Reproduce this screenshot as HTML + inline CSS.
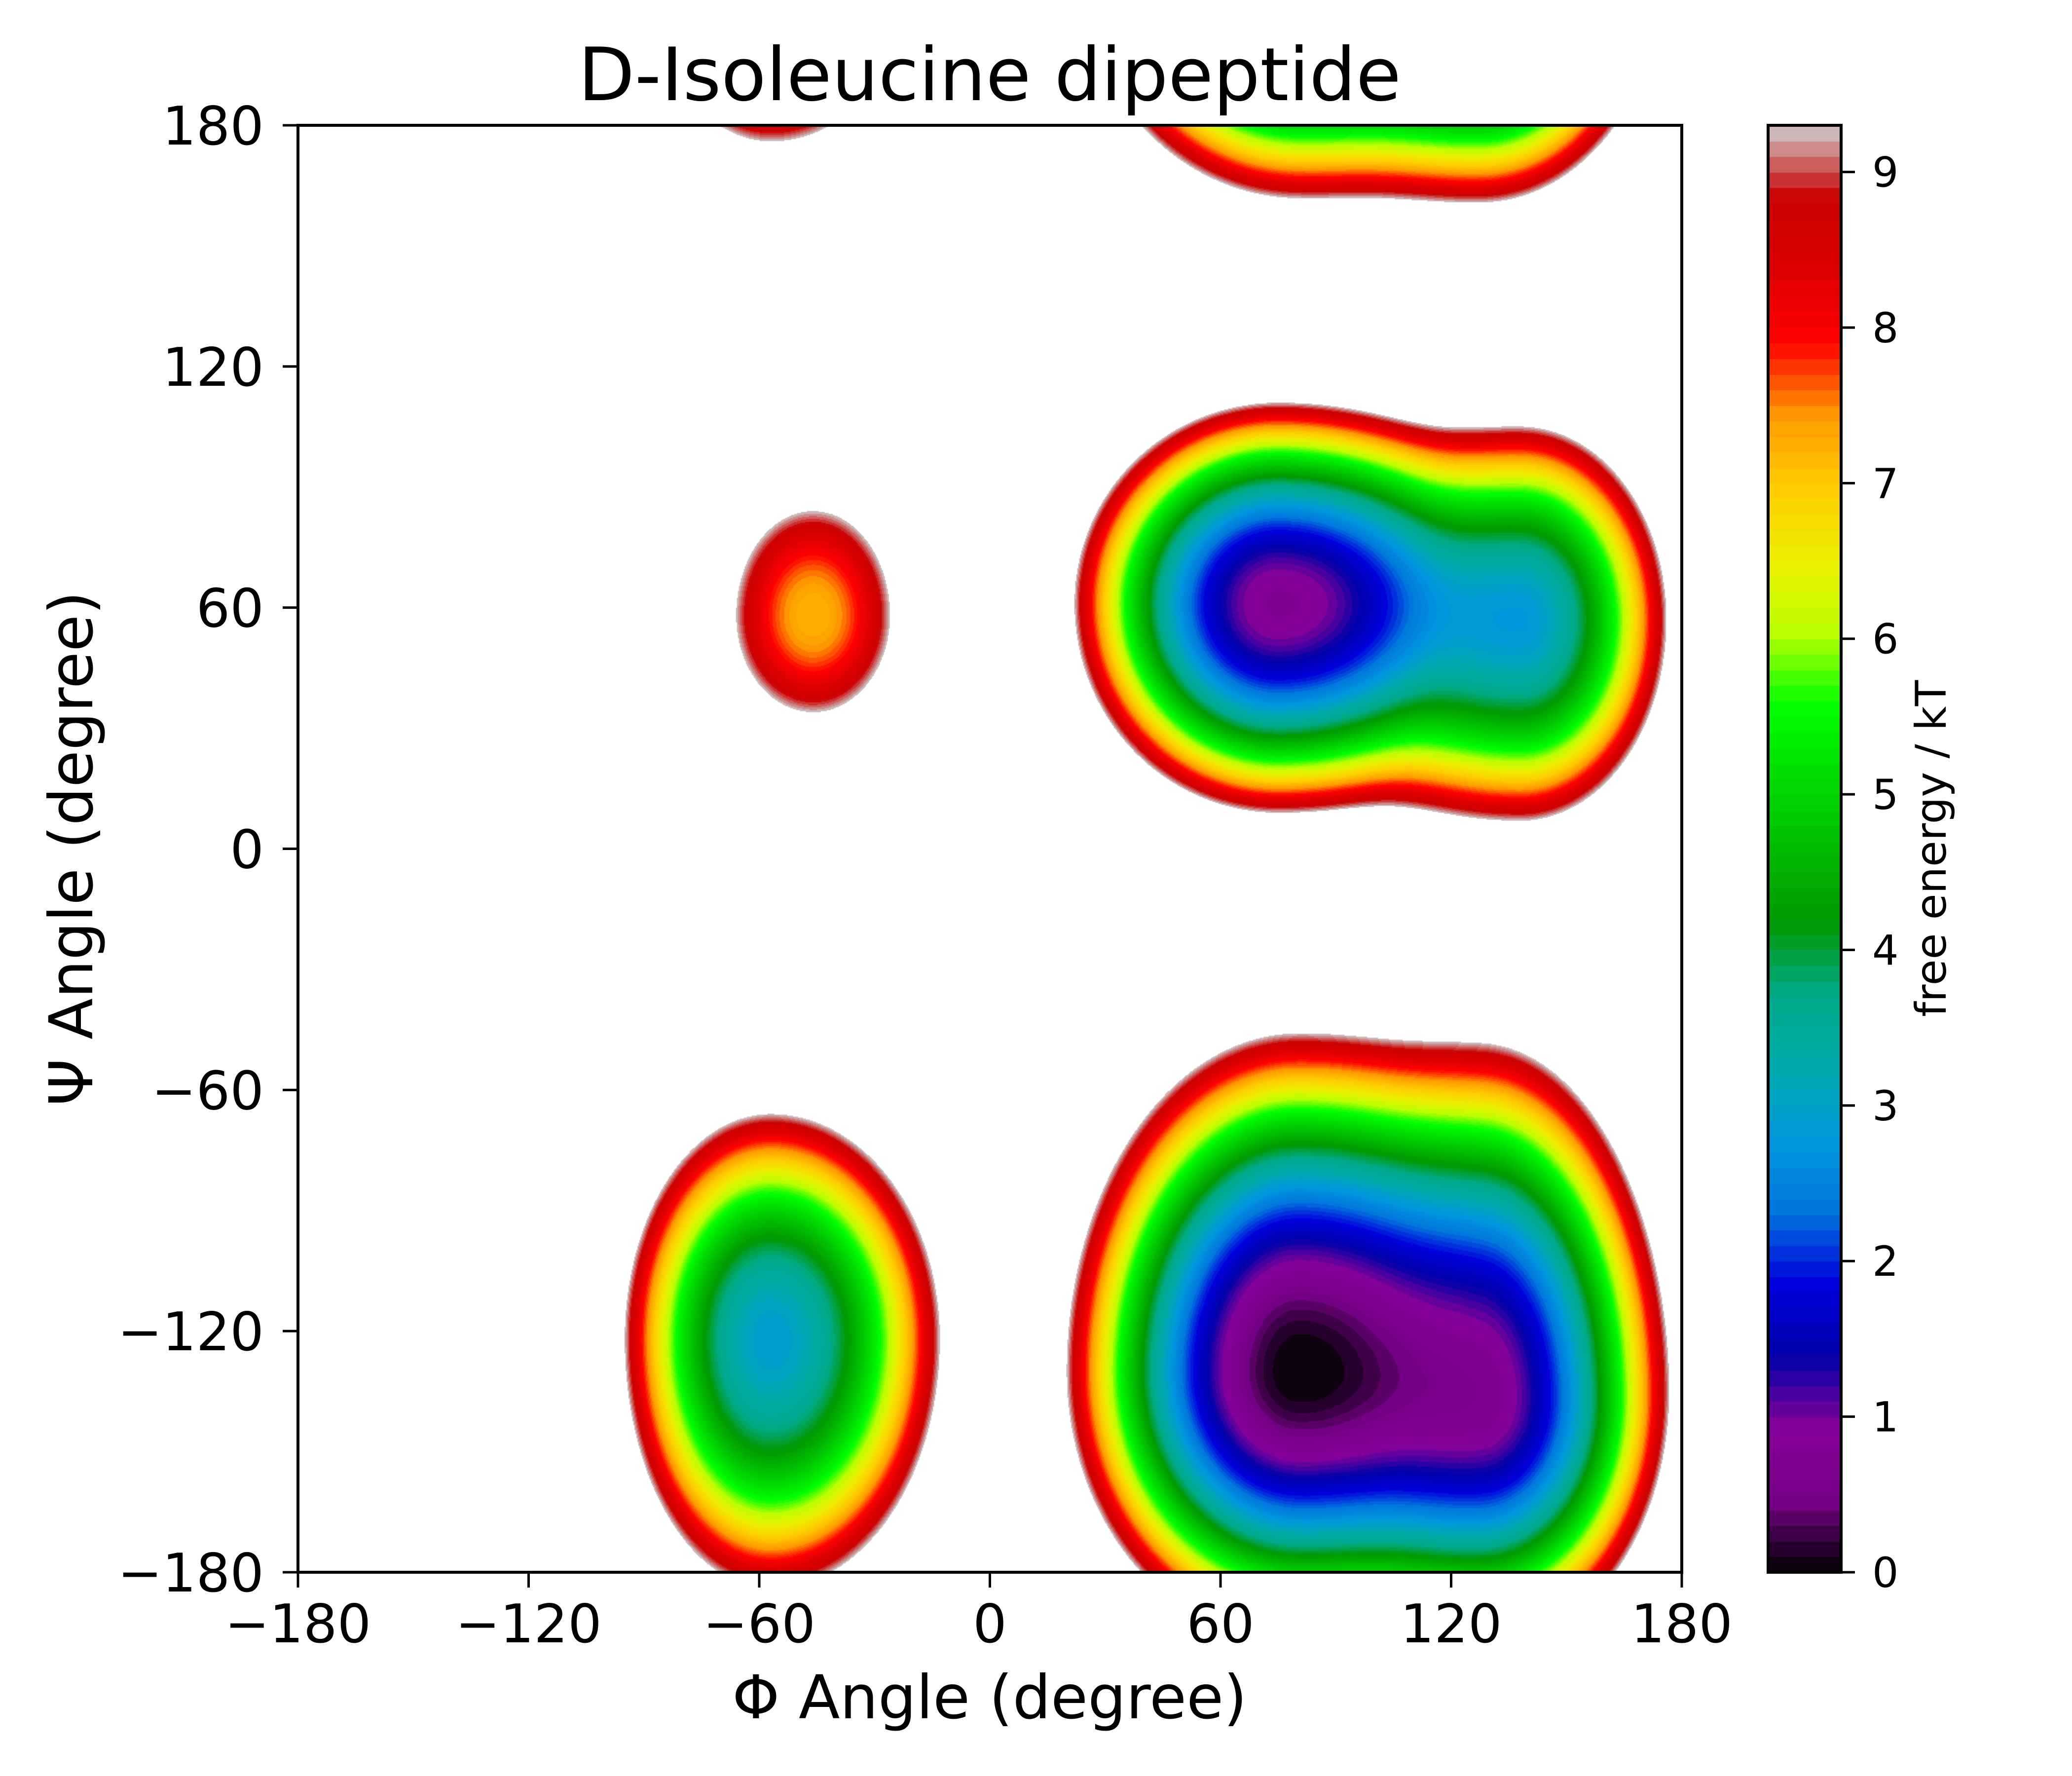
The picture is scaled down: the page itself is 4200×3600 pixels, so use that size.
<!DOCTYPE html>
<html>
<head>
<meta charset="utf-8">
<style>
  html,body{margin:0;padding:0;background:#fff;}
  #root{position:relative;width:4200px;height:3600px;background:#fff;overflow:hidden;}
  #map{position:absolute;left:604px;top:254px;width:2805px;height:2933px;}
  #cbar{position:absolute;left:3584px;top:254px;width:148px;height:2933px;}
  svg{position:absolute;left:0;top:0;}
  text{font-family:"DejaVu Sans","Liberation Sans",sans-serif;fill:#000;}
</style>
</head>
<body>
<div id="root">
  <canvas id="map" width="1403" height="1467"></canvas>
  <canvas id="cbar" width="1" height="2933"></canvas>
  <svg id="ov" width="4200" height="3600">
    <text x="2006" y="203" font-size="149" text-anchor="middle">D-Isoleucine dipeptide</text>
    <text x="2006" y="3483" font-size="122" text-anchor="middle">Φ Angle (degree)</text>
    <text x="145" y="1720" font-size="122" text-anchor="middle" dominant-baseline="central" transform="rotate(-90 145 1720)">Ψ Angle (degree)</text>
    <text x="3915" y="1720" font-size="86" text-anchor="middle" dominant-baseline="central" transform="rotate(-90 3915 1720)">free energy / kT</text>
    <rect x="604" y="254" width="2805" height="2933" fill="none" stroke="#000" stroke-width="6"/>
    <rect x="3584" y="254" width="148" height="2933" fill="none" stroke="#000" stroke-width="6"/>
    <g id="xticks"></g>
    <g id="yticks"></g>
    <g id="cticks"></g>
  </svg>
</div>
<script>
// ---- data ----
const xTickValues = [-180, -120, -60, 0, 60, 120, 180];
const yTickValues = [-180, -120, -60, 0, 60, 120, 180];
const cbarTickValues = [0, 1, 2, 3, 4, 5, 6, 7, 8, 9];
// basin minima (degrees) and depths (kT)
const basinNames = ["lower-main", "lower-second", "upper-main", "upper-second", "left-lower", "left-small"];
const basinPhi   = [80, 128, 75, 138, -57, -46];
const basinPsi   = [-130, -137, 61, 57, -122, 58];
const basinDepth = [0.0, 0.75, 0.75, 2.8, 2.9, 7.2];
// extent (degrees) at which each basin reaches the cutoff energy: left, right, down, up
const basinReachL = [60, 75, 53, 70, 38, 20];
const basinReachR = [90, 48, 75, 38, 44, 20];
const basinReachD = [68, 62, 52, 50, 62, 24];
const basinReachU = [84, 88, 50, 48, 56, 26];
const vMax = 9.3;
const levelStep = 0.1;

// ---- geometry ----
const PL = 604, PR = 3409, PT = 254, PB = 3187;
const xScale = v => PL + (v + 180) / 360 * (PR - PL);
const yScale = v => PB - (v + 180) / 360 * (PB - PT);
const cScale = v => PB - v / vMax * (PB - PT);

// nipy_spectral colormap
const cmStops = [[0,0,0,0],[.05,.4667,0,.5333],[.10,.5333,0,.6],[.15,0,0,.6667],[.20,0,0,.8667],[.25,0,.4667,.8667],[.30,0,.6,.8667],[.35,0,.6667,.6667],[.40,0,.6667,.5333],[.45,0,.6,0],[.50,0,.7333,0],[.55,0,.8667,0],[.60,0,1,0],[.65,.7333,1,0],[.70,.9333,.9333,0],[.75,1,.8,0],[.80,1,.6,0],[.85,1,0,0],[.90,.8667,0,0],[.95,.8,0,0],[1,.8,.8,.8]];
function cmap(t){
  t=Math.max(0,Math.min(1,t));
  for(let i=1;i<cmStops.length;i++){
    if(t<=cmStops[i][0]){
      const a=cmStops[i-1],b=cmStops[i],f=(t-a[0])/(b[0]-a[0]);
      return [0,1,2].map(k=>Math.round(255*(a[k+1]+(b[k+1]-a[k+1])*f)));
    }
  }
  return [204,204,204];
}
const nLevels = Math.round(vMax/levelStep);
const levelColors = [];
for(let i=0;i<nLevels;i++) levelColors.push(cmap((i+0.5)*levelStep/vMax));

function wrap(d){ d=((d+180)%360+360)%360-180; return d; }
function energy(phi, psi){
  let s=0;
  for(let i=0;i<basinPhi.length;i++){
    const dx=wrap(phi-basinPhi[i]), dy=wrap(psi-basinPsi[i]);
    const rx = dx<0?basinReachL[i]:basinReachR[i];
    const ry = dy<0?basinReachD[i]:basinReachU[i];
    const q=(dx/rx)*(dx/rx)+(dy/ry)*(dy/ry);
    const f=basinDepth[i]+(vMax-basinDepth[i])*q;
    s+=Math.exp(-f);
  }
  return -Math.log(s);
}

// ---- draw map ----
const mc=document.getElementById('map'), mctx=mc.getContext('2d');
const W=mc.width,H=mc.height, img=mctx.createImageData(W,H);
for(let j=0;j<H;j++){
  const psi=180-(j+0.5)/H*360;
  for(let i=0;i<W;i++){
    const phi=-180+(i+0.5)/W*360;
    const F=energy(phi,psi);
    const p=(j*W+i)*4;
    if(F>=vMax){img.data[p]=255;img.data[p+1]=255;img.data[p+2]=255;img.data[p+3]=255;continue;}
    const c=levelColors[Math.max(0,Math.min(nLevels-1,Math.floor(F/levelStep)))];
    img.data[p]=c[0];img.data[p+1]=c[1];img.data[p+2]=c[2];img.data[p+3]=255;
  }
}
mctx.putImageData(img,0,0);

// ---- colorbar ----
const cc=document.getElementById('cbar'), cctx=cc.getContext('2d');
for(let i=0;i<nLevels;i++){
  const c=levelColors[i];
  cctx.fillStyle=`rgb(${c[0]},${c[1]},${c[2]})`;
  const y0=cScale((i+1)*levelStep)-PT, y1=cScale(i*levelStep)-PT;
  cctx.fillRect(0,Math.floor(y0),1,Math.ceil(y1-y0)+1);
}

// ---- ticks ----
const NS='http://www.w3.org/2000/svg';
function mk(tag,attrs,parent){const e=document.createElementNS(NS,tag);for(const k in attrs)e.setAttribute(k,attrs[k]);parent.appendChild(e);return e;}
const gx=document.getElementById('xticks');
xTickValues.forEach(v=>{
  const x=xScale(v);
  const t=mk('line',{x1:x,x2:x,y1:PB,y2:PB+31,stroke:'#000','stroke-width':5},gx);
  
  
  const l=mk('text',{x:x,y:3329,'font-size':108,'text-anchor':'middle'},gx);
  l.textContent=(v<0?'\u2212':'')+Math.abs(v);
  
  
});
const gy=document.getElementById('yticks');
yTickValues.forEach(v=>{
  const y=yScale(v);
  const t=mk('line',{x1:PL-31,x2:PL,y1:y,y2:y,stroke:'#000','stroke-width':5},gy);
  
  
  const l=mk('text',{x:535,y:y+39,'font-size':108,'text-anchor':'end'},gy);
  l.textContent=(v<0?'\u2212':'')+Math.abs(v);
  
  
});
const gc=document.getElementById('cticks');
cbarTickValues.forEach(v=>{
  const y=cScale(v);
  const t=mk('line',{x1:3732,x2:3760,y1:y,y2:y,stroke:'#000','stroke-width':5},gc);
  
  
  const l=mk('text',{x:3795,y:y+30,'font-size':84,'text-anchor':'start'},gc);
  l.textContent=String(v);
  
  
});
</script>
</body>
</html>
